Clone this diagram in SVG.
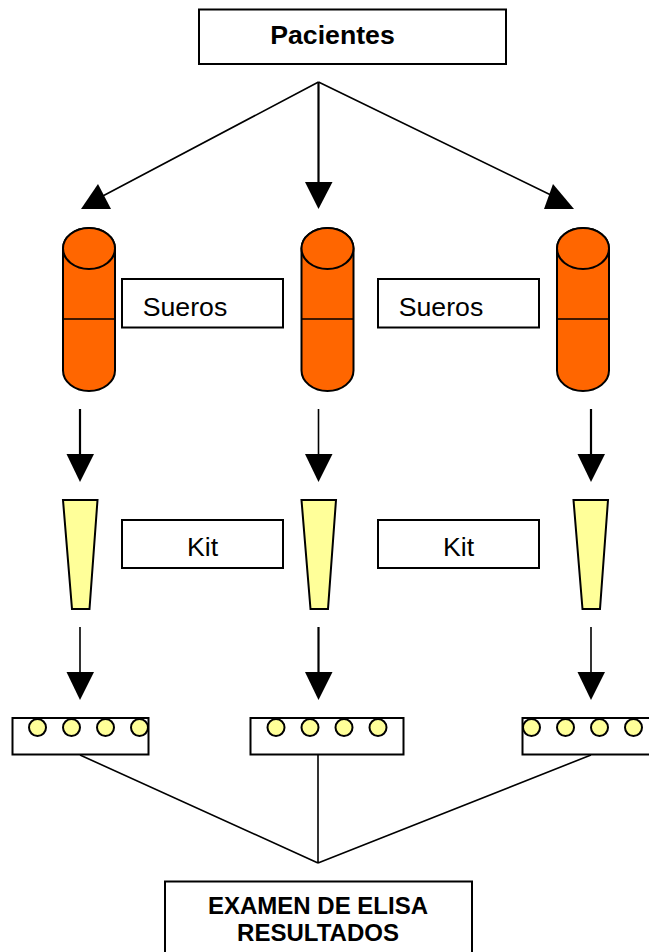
<svg xmlns="http://www.w3.org/2000/svg" width="649" height="952" viewBox="0 0 649 952">
<style>
.box{fill:#fff;stroke:#000;stroke-width:2}
.t{font-family:"Liberation Sans",Arial,sans-serif;font-size:26.67px;fill:#000;text-anchor:middle}
.b{font-weight:bold}
.e{font-size:24px}
.cyl{fill:#f60;stroke:#000;stroke-width:2}
.tube{fill:#ff9;stroke:#000;stroke-width:2}
.well{fill:#ff9;stroke:#000;stroke-width:2}
.line{fill:none;stroke:#000;stroke-width:1.600}
.thick{stroke-width:2.200}
.head{fill:#000;stroke:none}
</style>
<defs>
<g id="cylinder">
<path class="cyl" d="M0 21V143A26 20.500 0 0 0 52 143V21A26 20.500 0 0 0 0 21Z"/>
<ellipse class="cyl" cx="26" cy="21" rx="26" ry="20.500"/>
<path class="line" d="M0 91.500H52"/>
</g>
<polygon id="tip" class="tube" points="0,0 34.500,0 26.500,109 9,109"/>
<g id="plate-wells">
<circle class="well" cx="0" cy="0" r="8.500"/>
<circle class="well" cx="34" cy="0" r="8.500"/>
<circle class="well" cx="68" cy="0" r="8.500"/>
<circle class="well" cx="102" cy="0" r="8.500"/>
</g>
</defs>
<g id="connectors">
<path class="line" d="M318.500 82L99 198M318.500 82L557 198"/>
<path class="line thick" d="M318.500 82V190"/>
<polygon class="head" points="98,184 111,209 81,209"/>
<polygon class="head" points="305,182 332.500,182 318.500,209"/>
<polygon class="head" points="553,184 544,209 574,209"/>
<path class="line thick" d="M80 409V460M591 409V460"/>
<path class="line" d="M318.500 409V460"/>
<polygon class="head" points="66.500,454 94,454 80,482"/>
<polygon class="head" points="305,454 332.500,454 318.500,482"/>
<polygon class="head" points="577.500,454 605,454 591,482"/>
<path class="line" d="M80 627V678M591 627V678"/>
<path class="line thick" d="M318.500 627V678"/>
<polygon class="head" points="66.500,672 94,672 80,700"/>
<polygon class="head" points="305,672 332.500,672 318.500,700"/>
<polygon class="head" points="577.500,672 605,672 591,700"/>
<path class="line" d="M80 755L318 863M318 755V863M591 755L318 863"/>
</g>
<g id="pacientes"><rect class="box" x="199" y="9.500" width="307" height="54.500"/><text class="t b" x="332.500" y="43.500">Pacientes</text></g>
<g id="tube-1"><use href="#cylinder" x="63" y="227.500"/></g>
<g id="tube-2"><use href="#cylinder" x="301.500" y="227.500"/></g>
<g id="tube-3"><use href="#cylinder" x="557" y="227.500"/></g>
<g id="sueros-1"><rect class="box" x="122" y="279" width="161" height="48.500"/><text class="t" x="185" y="316">Sueros</text></g>
<g id="sueros-2"><rect class="box" x="378" y="279" width="161" height="48.500"/><text class="t" x="441" y="316">Sueros</text></g>
<g id="kit-1"><rect class="box" x="122" y="520" width="161" height="48"/><text class="t" x="202.500" y="556">Kit</text></g>
<g id="kit-2"><rect class="box" x="378" y="520" width="161" height="48"/><text class="t" x="458.500" y="556">Kit</text></g>
<g id="tip-1"><use href="#tip" x="63" y="500"/></g>
<g id="tip-2"><use href="#tip" x="301.500" y="500"/></g>
<g id="tip-3"><use href="#tip" x="573.500" y="500"/></g>
<g id="plate-1"><rect class="box" x="12.500" y="718" width="136" height="36.500"/><use href="#plate-wells" x="37.500" y="727.500"/></g>
<g id="plate-2"><rect class="box" x="250.500" y="718" width="153" height="36.500"/><use href="#plate-wells" x="276" y="727.500"/></g>
<g id="plate-3"><rect class="box" x="522.500" y="718" width="153" height="36.500"/><use href="#plate-wells" x="531.500" y="727.500"/></g>
<g id="resultados"><rect class="box" x="165" y="881.500" width="307" height="90"/><text class="t b e" x="318" y="914">EXAMEN DE ELISA</text><text class="t b e" x="318" y="941">RESULTADOS</text></g>
</svg>
